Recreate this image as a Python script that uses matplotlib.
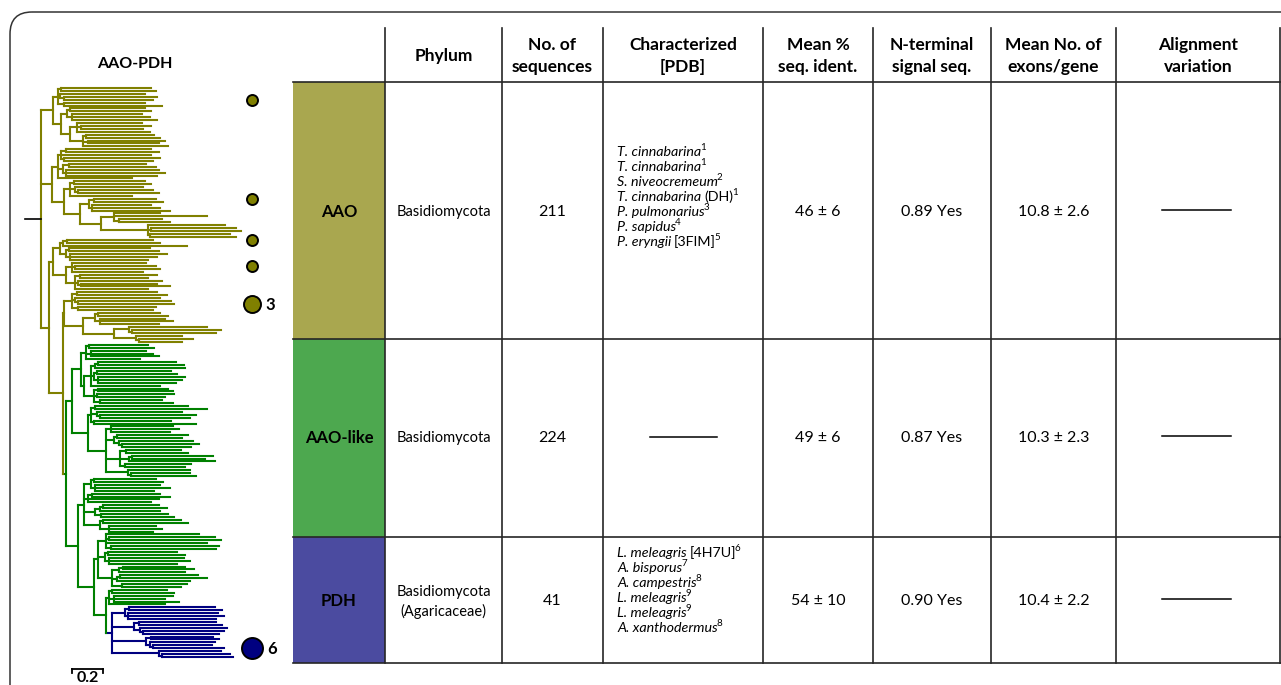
import matplotlib
matplotlib.use('Agg')
import matplotlib.pyplot as plt
from matplotlib.collections import LineCollection
from matplotlib.patches import Rectangle, FancyBboxPatch

plt.rcParams['font.family'] = ['Lato', 'DejaVu Sans']

# ---- tree data (Newick, branch lengths in 0.01 subst./site) ----
aao_top = "(((:58,:61):2,(:55,(:60,:57):3):1,(:52,:63):4):3,(((:48,:52):2,(:45,:50,:55):3):4,((:42,(:45,:40):3,:47):4,((:44,:48):2,(:50,:46):3,:55):8):6):5)"
aao_mid = ("((((:55,:60):3,:58,(:62,:57):2):2,((:50,:56):4,(:60,:64,:59):2):3,:48):4,"
           "(((:46,:50):2,(:44,(:48,:52):2):3,:40):4,(((:40,:45):3,(:38,:44,:50):2):6,"
           "((:30,:60,(:28,:33):3):8,(:50,(:55,:58):2,(:52,:56):1):30):14):10):8)")
aao_low1 = "((((:55,:60):3,:80):2,((:52,:58):2,(:62,:56,:50):3):4):4,((:48,(:52,:55):2,:46):4,((:50,:44):3,(:54,(:49,:57):2):2,:47):6):8)"
aao_low2 = "(((:52,:58):3,(:55,(:60,:62):2):2,(:50,:48):4):5,(((:40,:45):2,(:42,:47,:38):3):8,((:50,(:57,:54):2):10,(:30,(:35,:28):2):14):20):12)"
like_a = "(((:38,:42):2,(:36,:40,:44):3,:35):3,((((:50,:55):2,:58):3,((:48,:52):2,(:56,:54,:50):3):2,:45):4,((:45,:48):3,(:50,:44):2,(:40,:47):4):6):2)"
like_b = ("(((:60,:72):3,(:55,(:62,:58):2):4,(:50,:66):2):2,"
          "((:40,:44,:38):3,((:46,:42):2,(:48,(:50,:45):2):3):5,((:35,:40):4,((:52,:47):2,:55):6,(:43,:39):3):9,(:40,(:38,:42):2):14):12)")
like_c = "(((:40,:45):2,(:42,:48,:38):3):4,((:44,:50):3,:46,:41):2,(((:36,:41):2,:39):3,(:43,:47):4):7,((:50,:55):2,(:30,:34,:28):6):10)"
like_d = "((:60,(:68,:72):2,:65,(:70,:68):3):5,((:45,:50):2,(:48,:52,:44):3):4,(((:40,:46):3,:43):4,((:50,:56):2,:47):3,(:42,:38):6):9)"
like_e = "((:35,:40):2,(:38,:33,:42):3,:36)"
pdh = "(((:55,:60):3,(:58,:62,:57):2):8,((:50,:54):3,(:56,(:52,:49):2):4):14,((:40,:44):3,(:42,(:38,:46):2):2):22,(:40,(:44,:46):2):30)"

aao_like = ("((" + like_a + ":6," + like_b + ":10):4,(" + like_c + ":4,(" + like_d + ":3,("
            + like_e + ":2," + pdh + "PDH:4):8):10):8)AAOlike")
newick = ("(" + aao_top + ":8," + aao_mid + ":7,(" + aao_low1 + ":3,(" + aao_low2 + ":1,"
          + aao_like + ":2):9):5)AAO")

clade_colors = {'AAO': '#808000', 'AAOlike': '#008000', 'PDH': '#000080'}

# characterized sequences: leaf index and number of enzymes
char_leaf = [4, 38, 52, 61, 74, 192]
char_count = [1, 1, 1, 1, 3, 6]
char_clade = ['AAO', 'AAO', 'AAO', 'AAO', 'AAO', 'PDH']

# ---- table data ----
headers = ['Phylum', 'No. of\nsequences', 'Characterized\n[PDB]', 'Mean %\nseq. ident.',
           'N-terminal\nsignal seq.', 'Mean No. of\nexons/gene', 'Alignment\nvariation']
families = ['AAO', 'AAO-like', 'PDH']
family_colors = ['#A9A74F', '#4DA84F', '#4B4BA0']
phylum = ['Basidiomycota', 'Basidiomycota', 'Basidiomycota\n(Agaricaceae)']
n_seq = [211, 224, 41]
ident_mean = [46, 49, 54]
ident_sd = [6, 6, 10]
signal_frac = [0.89, 0.87, 0.90]
exon_mean = [10.8, 10.3, 10.4]
exon_sd = [2.6, 2.3, 2.2]
aao_chars = [('T. cinnabarina', '', '1'), ('T. cinnabarina', '', '1'),
             ('S. niveocremeum', '', '2'), ('T. cinnabarina', '(DH)', '1'),
             ('P. pulmonarius', '', '3'), ('P. sapidus', '', '4'),
             ('P. eryngii', '[3FIM]', '5')]
pdh_chars = [('L. meleagris', '[4H7U]', '6'), ('A. bisporus', '', '7'),
             ('A. campestris', '', '8'), ('L. meleagris', '', '9'),
             ('L. meleagris', '', '9'), ('A. xanthodermus', '', '8')]
characterized = [aao_chars, [], pdh_chars]


def parse_newick(s):
    pos = 0

    def node():
        nonlocal pos
        kids = []
        if s[pos] == '(':
            pos += 1
            kids.append(node())
            while s[pos] == ',':
                pos += 1
                kids.append(node())
            pos += 1
        start = pos
        while pos < len(s) and s[pos] not in ':,)':
            pos += 1
        name = s[start:pos]
        length = 0.0
        if pos < len(s) and s[pos] == ':':
            pos += 1
            start = pos
            while pos < len(s) and s[pos] not in ',)':
                pos += 1
            length = float(s[start:pos])
        return {'name': name, 'len': length, 'kids': kids}

    return node()


def place(node, x, color, counter):
    node['x'] = x
    node['c'] = clade_colors.get(node['name'], color)
    if not node['kids']:
        node['y'] = counter[0]
        counter[0] += 1
        return
    for k in node['kids']:
        place(k, x + k['len'] / 100.0, node['c'], counter)
    node['y'] = (node['kids'][0]['y'] + node['kids'][-1]['y']) / 2


def collect(node, segs, cols):
    for k in node['kids']:
        segs.append([(node['x'], k['y']), (k['x'], k['y'])])
        cols.append(k['c'])
        collect(k, segs, cols)
    if node['kids']:
        segs.append([(node['x'], node['kids'][0]['y']), (node['x'], node['kids'][-1]['y'])])
        cols.append(node['c'])


tree = parse_newick(newick)
counter = [0]
place(tree, 0.0, '#808000', counter)
n_leaves = counter[0]

W, H = 1281, 685
fig = plt.figure(figsize=(W / 100, H / 100), dpi=100)
ax = fig.add_axes([0, 0, 1, 1])
ax.set_xlim(0, W)
ax.set_ylim(H, 0)
ax.axis('off')

# tree panel: 155 px per unit, root at x=41, leaves from y=88 to y=657
sp = (657 - 88) / (n_leaves - 1)
tax = fig.add_axes([15 / W, 1 - 680 / H, 280 / W, 605 / H])
tax.set_xlim((15 - 41) / 155, (295 - 41) / 155)
tax.set_ylim((680 - 88) / sp, (75 - 88) / sp)
tax.axis('off')

segs, cols = [], []
collect(tree, segs, cols)
tax.add_collection(LineCollection(segs, colors=cols, linewidths=1.5, capstyle='projecting'))
tax.plot([-0.105, 0], [tree['y'], tree['y']], color='black', lw=1.2)

# characterized sequences
xc = (252 - 41) / 155
radius = {1: 5.5, 3: 8.5, 6: 10.5}
for leaf, n, cl in zip(char_leaf, char_count, char_clade):
    r = radius[n]
    tax.scatter([xc], [leaf], s=(2 * r * 0.72) ** 2, color=clade_colors[cl],
                edgecolors='black', linewidths=1.4, zorder=3, clip_on=False)
    if n > 1:
        tax.annotate(str(n), (xc, leaf), xytext=(r * 0.72 + 3.5, -0.5), textcoords='offset points',
                     ha='left', va='center', fontsize=12, fontweight='bold')

# scale bar
yb = (669 - 88) / sp
dy = 4 / sp
tax.plot([0.2, 0.4], [yb, yb], color='black', lw=1.3, clip_on=False)
tax.plot([0.2, 0.2], [yb, yb + dy], color='black', lw=1.3, clip_on=False)
tax.plot([0.4, 0.4], [yb, yb + dy], color='black', lw=1.3, clip_on=False)
ax.text(88, 671, '0.2', ha='center', va='top', fontsize=11.5, fontweight='bold')
ax.text(135, 64, 'AAO-PDH', ha='center', va='center', fontsize=11.5, fontweight='bold')

# outer rounded frame
ax.add_patch(FancyBboxPatch((10, 12), 1400, 800, boxstyle='round,pad=0,rounding_size=22',
                            fill=False, ec='#333333', lw=1.1, clip_on=False))

# table
col_x = [385, 502, 603, 763, 873, 991, 1116, 1280]
row_y = [82, 339, 537, 663]
row_mid = [212, 438, 601]
line_c = '#262626'
for i in range(3):
    ax.add_patch(Rectangle((293, row_y[i]), 385 - 293, row_y[i + 1] - row_y[i],
                           facecolor=family_colors[i], edgecolor='none'))
for y in row_y:
    ax.plot([293, 1281], [y, y], color=line_c, lw=1.2)
for x in col_x:
    ax.plot([x, x], [28, 663], color=line_c, lw=1.2)


def centre(j):
    return (col_x[j] + col_x[j + 1]) / 2


for j, h in enumerate(headers):
    lines = h.split('\n')
    ys = [56] if len(lines) == 1 else [45, 67]
    for t, y in zip(lines, ys):
        ax.text(centre(j), y, t, ha='center', va='center', fontsize=12.5, fontweight='bold')


def species(x, y, name, extra, ref):
    # italic name, optional plain suffix, superscript reference number
    t = ax.text(x, y, name, style='italic', fontsize=10.3, va='baseline', ha='left')
    if extra:
        t = ax.annotate(extra, xy=(1, y), xycoords=(t, 'data'), xytext=(2, 0),
                        textcoords='offset points', fontsize=10.3, va='baseline', ha='left')
    ax.annotate(ref, xy=(1, y), xycoords=(t, 'data'), xytext=(-0.8, 4),
                textcoords='offset points', fontsize=7, va='baseline', ha='left')


for i in range(3):
    y = row_mid[i]
    ax.text(339, y, families[i], ha='center', va='center', fontsize=12, fontweight='bold')
    plines = phylum[i].split('\n')
    pys = [y] if len(plines) == 1 else [y - 9, y + 10]
    for t, py in zip(plines, pys):
        ax.text(centre(0), py, t, ha='center', va='center', fontsize=10.5)
    ax.text(centre(1), y, str(n_seq[i]), ha='center', va='center', fontsize=11.5)
    chars = characterized[i]
    if chars:
        y0 = 156 if i == 0 else 557
        for k, (nm, ex, ref) in enumerate(chars):
            species(617, y0 + 15 * k, nm, ex, ref)
    else:
        ax.plot([650, 717], [y - 1, y - 1], color='black', lw=1.1)
    ax.text(centre(3), y, f'{ident_mean[i]} \u00b1 {ident_sd[i]}', ha='center', va='center',
            fontsize=11.5)
    ax.text(centre(4), y, f'{signal_frac[i]:.2f} Yes', ha='center', va='center', fontsize=11.5)
    ax.text(centre(5), y, f'{exon_mean[i]} \u00b1 {exon_sd[i]}', ha='center', va='center',
            fontsize=11.5)
    ax.plot([1162, 1231], [y - 2, y - 2], color='black', lw=1.1)

fig.savefig('out.png', dpi=100)
